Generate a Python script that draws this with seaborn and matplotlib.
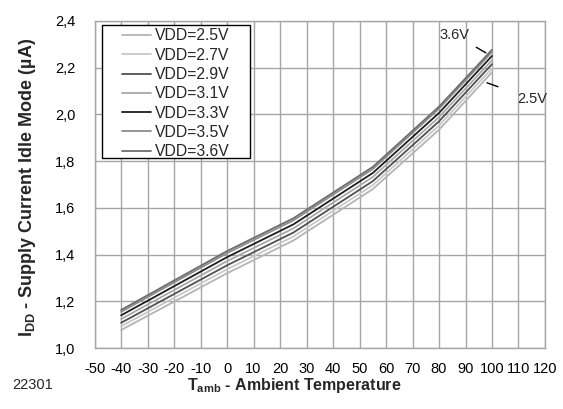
import matplotlib
matplotlib.use("Agg")
import matplotlib.pyplot as plt
from matplotlib.patches import Rectangle
import seaborn as sns
import pandas as pd

temps = [-40, 0, 25, 55, 80, 100]
vdd_labels = ["VDD=2.5V", "VDD=2.7V", "VDD=2.9V", "VDD=3.1V", "VDD=3.3V", "VDD=3.5V", "VDD=3.6V"]
i_25 = [1.077, 1.320, 1.460, 1.680, 1.934, 2.180]
i_27 = [1.093, 1.337, 1.477, 1.697, 1.952, 2.197]
i_29 = [1.108, 1.354, 1.494, 1.714, 1.970, 2.215]
i_31 = [1.124, 1.372, 1.512, 1.732, 1.988, 2.232]
i_33 = [1.140, 1.389, 1.529, 1.749, 2.006, 2.250]
i_35 = [1.155, 1.406, 1.546, 1.766, 2.024, 2.267]
i_36 = [1.163, 1.415, 1.555, 1.775, 2.033, 2.276]
series = [i_25, i_27, i_29, i_31, i_33, i_35, i_36]
colors = ["#b4b4b4", "#c8c8c8", "#505050", "#a8a8a8", "#1e1e1e", "#8c8c8c", "#6e6e6e"]
x_ticks = list(range(-50, 121, 10))
y_ticks = [1.0, 1.2, 1.4, 1.6, 1.8, 2.0, 2.2, 2.4]
y_tick_labels = ["1,0", "1,2", "1,4", "1,6", "1,8", "2,0", "2,2", "2,4"]

rows = []
for lab, vals in zip(vdd_labels, series):
    for t, v in zip(temps, vals):
        rows.append({"T": t, "I": v, "VDD": lab})
df = pd.DataFrame(rows)

sns.set_style("white")
plt.rcParams["font.family"] = ["Liberation Sans", "DejaVu Sans"]
plt.rcParams["mathtext.default"] = "regular"

fig = plt.figure(figsize=(5.63, 4.09), dpi=100)
ax = fig.add_axes([0.168, 0.149, 0.800, 0.800])

sns.lineplot(data=df, x="T", y="I", hue="VDD", hue_order=vdd_labels,
             palette=dict(zip(vdd_labels, colors)), linewidth=1.3, ax=ax,
             legend=True)

ax.set_xlim(-50, 120)
ax.set_ylim(1.0, 2.4)
ax.set_xticks(x_ticks)
ax.set_xticklabels([str(v) for v in x_ticks])
ax.set_yticks(y_ticks)
ax.set_yticklabels(y_tick_labels)
ax.tick_params(axis="both", length=0, labelsize=10.5, colors="black")
ax.tick_params(axis="y", pad=14)
ax.tick_params(axis="x", pad=10)
ax.grid(True, color="#a6a6a6", linewidth=1.0)
for s in ax.spines.values():
    s.set_color("#a6a6a6")
    s.set_linewidth(1.0)

ax.set_xlabel(r"T$_{amb}$ - Ambient Temperature", fontsize=11.5, fontweight="bold")
ax.set_ylabel(r"I$_{DD}$ - Supply Current Idle Mode (µA)", fontsize=13, fontweight="bold")
ax.xaxis.set_label_coords(0.444, -0.113)
ax.xaxis.label.set_va("center")
ax.yaxis.set_label_coords(-0.150, 0.49)
ax.yaxis.label.set_va("center")

frame = Rectangle((0.016, 0.581), 0.329, 0.407, transform=ax.transAxes,
                  facecolor="white", edgecolor="black", linewidth=1.0, zorder=4)
ax.add_patch(frame)
leg = ax.legend(loc="upper left", bbox_to_anchor=(0.060, 0.977), fontsize=11.3,
                frameon=False, handlelength=1.9, handletextpad=0.2,
                labelspacing=0.275, borderpad=0, borderaxespad=0)
leg.set_zorder(5)

ax.annotate("3.6V", xy=(97.7, 2.263), xytext=(86, 2.34), fontsize=10.5,
            ha="center", va="center",
            arrowprops=dict(arrowstyle="-", color="black", lw=1.0, shrinkA=3, shrinkB=0))
ax.annotate("2.5V", xy=(98.1, 2.135), xytext=(109.4, 2.066), fontsize=10.5,
            ha="left", va="center",
            arrowprops=dict(arrowstyle="-", color="black", lw=1.0, shrinkA=12, shrinkB=0))

fig.text(0.021, 0.058, "22301", fontsize=10.5, ha="left", va="center")

fig.savefig("out.png", dpi=100)
